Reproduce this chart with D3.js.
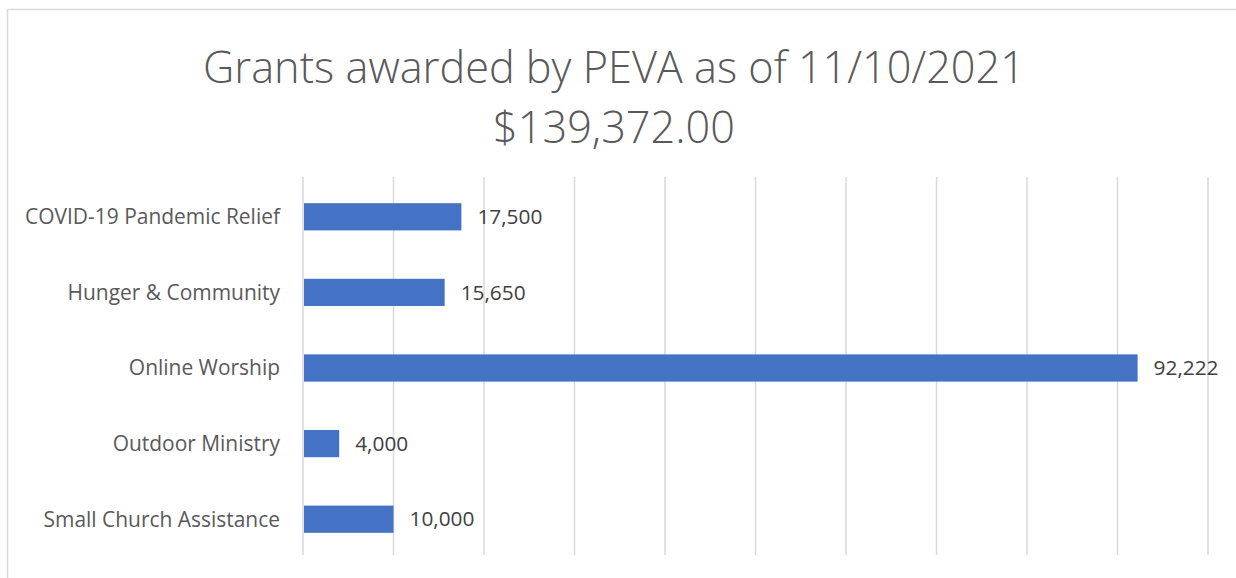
<!DOCTYPE html>
<html><head><meta charset="utf-8">
<script src="https://cdn.jsdelivr.net/npm/d3@7"></script>
<style>body{margin:0;background:#fff}svg{display:block}</style>
</head><body>
<svg id="c" width="1236" height="578"></svg>
<script>
const categories = ["COVID-19 Pandemic Relief","Hunger & Community","Online Worship","Outdoor Ministry","Small Church Assistance"];
const values = [17500, 15650, 92222, 4000, 10000];
const xTicks = [0,10000,20000,30000,40000,50000,60000,70000,80000,90000,100000];
const titleLines = ["Grants awarded by PEVA as of 11/10/2021", "$139,372.00"];

const svg = d3.select("#c");
const FONT = "'Open Sans', sans-serif";
// chart border
svg.append("rect").attr("x",7.5).attr("y",9.5).attr("width",1240).attr("height",600)
  .attr("fill","none").attr("stroke","#d9d9d9").attr("stroke-width",1.5);

const m = {left:303, right:1208, top:177, bottom:555};
const x = d3.scaleLinear().domain([0,100000]).range([m.left,m.right]);
const y = d3.scaleBand().domain(categories).range([m.top+2,m.bottom+2]).paddingInner(0.64).paddingOuter(0.32);

// gridlines
svg.append("g").selectAll("line").data(xTicks).join("line")
  .attr("x1",d=>x(d)).attr("x2",d=>x(d)).attr("y1",m.top).attr("y2",m.bottom)
  .attr("stroke","#d9d9d9").attr("stroke-width",1.5);

// title
const t = svg.append("text").attr("text-anchor","middle").attr("fill","#595959")
  .style("font-family",FONT).style("font-weight",300);
t.selectAll("tspan").data(titleLines).join("tspan")
  .attr("x",614).attr("y",(d,i)=>83+i*60).text(d=>d);
t.style("font-size","40px");
const tw = t.select("tspan").node().getComputedTextLength();
t.style("font-size",(40*822/tw)+"px");

// category labels
const cl = svg.append("g").selectAll("text").data(categories).join("text")
  .attr("x",280).attr("y",d=>y(d)+y.bandwidth()/2).attr("dy","0.35em")
  .attr("text-anchor","end").attr("fill","#595959")
  .style("font-family",FONT).style("font-size","18px").text(d=>d);
const cw = cl.nodes()[0].getComputedTextLength();
cl.style("font-size",(18*255/cw)+"px");

// bars
svg.append("g").selectAll("rect").data(values).join("rect")
  .attr("x",x(0)+1).attr("y",(d,i)=>y(categories[i]))
  .attr("width",d=>x(d)-x(0)-1).attr("height",y.bandwidth())
  .attr("fill","#4472c4");

// value labels
const vl = svg.append("g").selectAll("text").data(values).join("text")
  .attr("x",d=>x(d)+16).attr("y",(d,i)=>y(categories[i])+y.bandwidth()/2).attr("dy","0.35em")
  .attr("fill","#404040").style("font-family",FONT).style("font-size","18px")
  .text(d=>d3.format(",")(d));
const vw = vl.nodes()[0].getComputedTextLength();
vl.style("font-size",(18*65/vw)+"px");
</script>
</body></html>
